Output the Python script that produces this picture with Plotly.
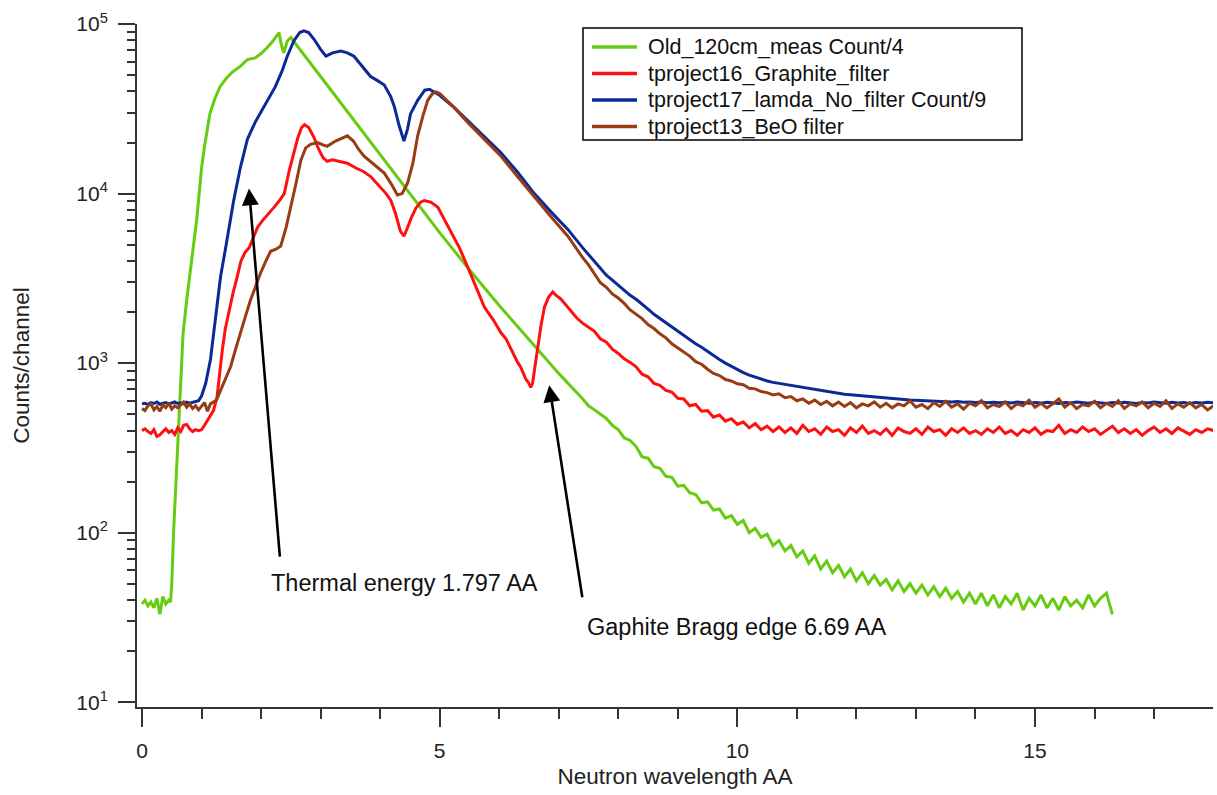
import plotly.graph_objects as go

# ---------------- data ----------------
TAIL_X = [7.5, 7.6, 7.7, 7.8, 7.9,
          8.0, 8.1, 8.2, 8.3, 8.4, 8.5, 8.6, 8.7, 8.8, 8.9,
          9.0, 9.1, 9.2, 9.3, 9.4, 9.5, 9.6, 9.7, 9.8, 9.9,
          10.0, 10.1, 10.2, 10.3, 10.4, 10.5, 10.6, 10.7, 10.8, 10.9,
          11.0, 11.1, 11.2, 11.3, 11.4, 11.5, 11.6, 11.7, 11.8, 11.9,
          12.0, 12.1, 12.2, 12.3, 12.4, 12.5, 12.6, 12.7, 12.8, 12.9,
          13.0, 13.1, 13.2, 13.3, 13.4, 13.5, 13.6, 13.7, 13.8, 13.9,
          14.0, 14.1, 14.2, 14.3, 14.4, 14.5, 14.6, 14.7, 14.8, 14.9,
          15.0, 15.1, 15.2, 15.3, 15.4, 15.5, 15.6, 15.7, 15.8, 15.9,
          16.0, 16.1, 16.2, 16.3, 16.4, 16.5, 16.6, 16.7, 16.8, 16.9,
          17.0, 17.1, 17.2, 17.3, 17.4, 17.5, 17.6, 17.7, 17.8, 17.9,
          18.0]

# Old_120cm_meas Count/4 (green)
green_head_x = [0, 0.05, 0.1, 0.15, 0.2, 0.25, 0.3, 0.35, 0.4, 0.45, 0.48, 0.5, 0.53, 0.58,
                0.64, 0.69, 0.75, 0.84, 0.92, 1.0, 1.05, 1.14, 1.22, 1.31, 1.42, 1.53, 1.65,
                1.77, 1.9, 2.0, 2.1, 2.2, 2.3, 2.34, 2.38, 2.44, 2.5, 3.0, 3.5, 4.0, 4.5,
                5.0, 5.5, 6.0, 6.5, 7.0, 7.4]
green_head_y = [38, 40, 37, 39, 36, 41, 33, 42, 38, 40, 39, 50, 100, 245,
                600, 1500, 2340, 4170, 7080, 14100, 19000, 29500, 36000, 42700, 48000, 52500, 56200,
                61700, 63100, 67000, 72400, 79400, 89100, 75900, 67600, 79400, 83200, 49000, 28800, 17000, 10000,
                5890, 3550, 2190, 1380, 870, 617]
green_tail_y = [560, 530, 498, 472, 430,
                405, 362, 350, 322, 280, 275, 245, 240, 215, 212,
                188, 190, 172, 168, 150, 152, 136, 138, 122, 126,
                112, 118, 100, 106, 94, 98, 84, 90, 78, 84,
                72, 78, 66, 73, 61, 68, 58, 64, 55, 61,
                52, 58, 50, 56, 49, 53, 46, 52, 45, 50,
                44, 49, 43, 48, 42, 47, 41, 45, 39, 44,
                38, 44, 37, 43, 36, 42, 38, 44, 35, 41,
                37, 43, 36, 41, 35, 42, 37, 40, 36, 43,
                37, 41, 44, 33]

# tproject16_Graphite_filter (red)
red_head_x = [0, 0.05, 0.1, 0.15, 0.2, 0.25, 0.3, 0.35, 0.4, 0.45, 0.5, 0.55, 0.6, 0.65, 0.7,
              0.75, 0.8, 0.85, 0.9, 0.95, 1.0, 1.05, 1.12, 1.2, 1.26, 1.3, 1.35, 1.4, 1.46,
              1.53, 1.6, 1.66, 1.73, 1.8, 1.87, 1.94, 2.02, 2.1, 2.16, 2.22, 2.3, 2.39, 2.47,
              2.55, 2.62, 2.68, 2.73, 2.8, 2.89, 2.96, 3.04, 3.11, 3.2, 3.3, 3.45, 3.6, 3.72,
              3.84, 4.0, 4.1, 4.18, 4.26, 4.34, 4.4, 4.46, 4.53, 4.6, 4.68, 4.74, 4.85, 4.97,
              5.08, 5.19, 5.33, 5.47, 5.6, 5.75, 5.9, 6.03, 6.12, 6.2, 6.26, 6.31, 6.36, 6.4,
              6.45, 6.49, 6.53, 6.56, 6.6, 6.64, 6.7, 6.76, 6.83, 6.9, 6.96, 7.03, 7.1, 7.15,
              7.22, 7.3, 7.4]
red_head_y = [400, 410, 395, 385, 405, 370, 378, 395, 410, 390, 400, 380, 415, 395, 430,
              435, 410, 395, 405, 400, 405, 430, 470, 525, 630, 850, 1200, 1600, 2040,
              2600, 3240, 3980, 4500, 4790, 5500, 6310, 6900, 7410, 7900, 8320, 9000, 10000, 13500,
              17400, 21500, 24500, 25500, 24500, 21400, 18500, 16300, 15500, 15800, 15500, 15100, 14100, 13500,
              12600, 11000, 10000, 9100, 7600, 6000, 5600, 6300, 7300, 8200, 8900, 9100, 8900, 8300,
              7000, 5900, 4800, 3700, 2900, 2140, 1800, 1510, 1380, 1200, 1080, 1010, 950, 880,
              800, 770, 720, 760, 950, 1200, 1650, 2140, 2450, 2630, 2500, 2400, 2250, 2150,
              2000, 1850, 1720]
red_tail_y = [1620, 1540, 1390, 1330, 1210,
              1140, 1060, 1010, 950, 860, 830, 760, 740, 690, 675,
              620, 615, 560, 570, 520, 525, 480, 495, 455, 470,
              435, 450, 415, 440, 405, 425, 395, 420, 390, 415,
              385, 430, 395, 410, 380, 420, 395, 405, 375, 415,
              390, 425, 385, 400, 380, 410, 375, 415, 395, 385,
              410, 380, 420, 395, 405, 375, 410, 390, 415, 385,
              400, 380, 410, 390, 420, 385, 400, 375, 405, 390,
              415, 380, 400, 395, 430, 385, 405, 390, 420, 395,
              410, 380, 400, 425, 390, 410, 385, 405, 375, 400,
              420, 390, 410, 385, 415, 395, 380, 405, 390, 410,
              400]

# tproject17_lamda_No_filter Count/9 (blue)
blue_head_x = [0, 0.05, 0.1, 0.15, 0.2, 0.25, 0.3, 0.35, 0.4, 0.45, 0.5, 0.55, 0.6, 0.65, 0.7,
               0.75, 0.8, 0.85, 0.9, 0.95, 1.0, 1.07, 1.15, 1.23, 1.32, 1.4, 1.47, 1.54, 1.65,
               1.77, 1.9, 2.05, 2.15, 2.24, 2.35, 2.44, 2.55, 2.65, 2.72, 2.8, 2.89, 3.0, 3.09,
               3.2, 3.34, 3.45, 3.56, 3.7, 3.84, 3.95, 4.07, 4.18, 4.24, 4.32, 4.4, 4.46, 4.51,
               4.63, 4.75, 4.83, 4.9, 5.0, 5.25, 5.47, 5.75, 6.03, 6.3, 6.59, 6.87, 7.15, 7.4]
blue_head_y = [575, 580, 570, 585, 578, 590, 572, 580, 586, 575, 582, 590, 578, 584, 575,
               588, 580, 585, 592, 600, 640, 760, 1050, 1860, 3240, 4680, 6700, 9100, 14100,
               20900, 26300, 32400, 37000, 42700, 52500, 64600, 79400, 89100, 91200, 89100, 81300, 70800, 64600,
               67600, 69200, 67600, 64600, 56200, 49000, 46500, 43700, 37200, 32400, 25100, 20400, 24000, 29500,
               35500, 40700, 41200, 39800, 38000, 32000, 26900, 21500, 17400, 13500, 10000, 7800, 6170, 4800]
blue_tail_y = [4360, 3950, 3580, 3300, 3090,
               2880, 2700, 2510, 2380, 2210, 2080, 1940, 1830, 1730, 1630,
               1540, 1460, 1380, 1300, 1240, 1170, 1110, 1050, 1000, 955,
               915, 880, 850, 825, 805, 785, 770, 760, 745, 735,
               725, 715, 705, 700, 690, 680, 670, 662, 655, 650,
               645, 638, 636, 630, 625, 622, 618, 614, 610, 606,
               603, 600, 598, 595, 597, 592, 590, 593, 588, 590,
               586, 590, 584, 588, 583, 587, 582, 589, 584, 580,
               586, 581, 588, 583, 579, 586, 582, 590, 584, 580,
               587, 582, 578, 586, 581, 588, 583, 579, 586, 582,
               589, 583, 580, 587, 581, 585, 579, 586, 582, 588,
               583]

# tproject13_BeO filter (brown)
brown_head_x = [0, 0.05, 0.1, 0.15, 0.2, 0.25, 0.3, 0.35, 0.4, 0.45, 0.5, 0.55, 0.6, 0.65, 0.7,
                0.75, 0.8, 0.85, 0.9, 0.95, 1.0, 1.05, 1.1, 1.15, 1.2, 1.25, 1.32, 1.4, 1.49,
                1.57, 1.65, 1.74, 1.82, 1.9, 1.99, 2.08, 2.16, 2.25, 2.33, 2.42, 2.5, 2.58, 2.67,
                2.75, 2.83, 2.95, 3.05, 3.11, 3.25, 3.38, 3.45, 3.55, 3.64, 3.73, 3.9, 4.07, 4.2,
                4.29, 4.37, 4.46, 4.55, 4.63, 4.72, 4.8, 4.88, 4.94, 5.0, 5.25, 5.47, 5.75, 6.03,
                6.3, 6.59, 6.87, 7.15, 7.3, 7.4]
brown_head_y = [540, 525, 560, 575, 530, 555, 520, 565, 545, 580, 535, 560, 545, 570, 590,
                550, 575, 540, 560, 530, 555, 585, 520, 575, 590, 605, 690, 810, 955,
                1200, 1510, 1900, 2340, 2800, 3390, 4000, 4570, 4700, 4900, 6300, 8300, 11200, 15800,
                18600, 19500, 20000, 19300, 19000, 20400, 21500, 21900, 20400, 18200, 16600, 14800, 13200, 11200,
                9800, 10000, 11500, 15100, 21900, 28800, 35500, 38900, 39800, 38900, 32000, 26300, 21000, 16600,
                12700, 9550, 7300, 5620, 4700, 4200]
brown_tail_y = [3800, 3350, 2980, 2800, 2560,
                2420, 2250, 2060, 1950, 1830, 1690, 1600, 1490, 1410, 1300,
                1230, 1150, 1100, 1020, 985, 920, 870, 845, 800, 785,
                755, 745, 710, 705, 680, 670, 650, 660, 625, 635,
                600, 615, 580, 605, 570, 595, 560, 590, 555, 585,
                545, 575, 560, 590, 550, 580, 545, 575, 560, 600,
                550, 570, 540, 585, 555, 595, 550, 575, 535, 580,
                560, 600, 545, 570, 555, 590, 540, 575, 560, 605,
                550, 580, 545, 575, 615, 550, 585, 540, 570, 560,
                595, 545, 580, 555, 600, 540, 575, 560, 590, 545,
                580, 555, 600, 540, 575, 550, 585, 545, 570, 530,
                560]

SERIES_NAMES = ["Old_120cm_meas Count/4", "tproject16_Graphite_filter",
                "tproject17_lamda_No_filter Count/9", "tproject13_BeO filter"]
COLORS = ["#66CC11", "#FF1010", "#0B2A96", "#983C14"]

Y_TICK_VALS = [10, 100, 1000, 10000, 100000]
Y_TICK_TEXT = ["10<sup>1</sup>", "10<sup>2</sup>", "10<sup>3</sup>", "10<sup>4</sup>", "10<sup>5</sup>"]
Y_MINOR_VALS = [m * 10 ** k for k in range(1, 5) for m in range(2, 10)]

ANNOT_TEXTS = ["Thermal energy 1.797 AA", "Gaphite Bragg edge 6.69 AA"]

# ---------------- figure ----------------
FONT = "Liberation Sans, Arial, sans-serif"
W, H = 1217, 795
ML, MR, MT, MB = 137, 4, 24, 88
PW, PH = W - ML - MR, H - MT - MB


def px_x(px):  # page pixel -> paper x
    return (px - ML) / PW


def px_y(py):  # page pixel -> paper y
    return (H - MB - py) / PH


series = [
    (green_head_x + TAIL_X[:len(green_tail_y)], green_head_y + green_tail_y),
    (red_head_x + TAIL_X[:len(red_tail_y)], red_head_y + red_tail_y),
    (blue_head_x + TAIL_X[:len(blue_tail_y)], blue_head_y + blue_tail_y),
    (brown_head_x + TAIL_X[:len(brown_tail_y)], brown_head_y + brown_tail_y),
]

fig = go.Figure()
for (xs, ys), name, color in zip(series, SERIES_NAMES, COLORS):
    fig.add_trace(go.Scatter(x=xs, y=ys, mode="lines", name=name, showlegend=False,
                             line=dict(color=color, width=3)))

axis_common = dict(showline=True, linecolor="#333333", linewidth=2, showgrid=False,
                   zeroline=False, ticks="outside", tickcolor="#333333", tickwidth=2,
                   tickfont=dict(family=FONT, size=21, color="#222222"),
                   automargin=False)

fig.update_xaxes(range=[-0.084, 17.99], tickmode="array", tickvals=[0, 5, 10, 15],
                 ticklen=18, ticklabelstandoff=6,
                 minor=dict(tickmode="array", tickvals=list(range(1, 19)), ticks="outside",
                            ticklen=10, tickwidth=2, tickcolor="#333333"),
                 title=dict(text="Neutron wavelength AA", standoff=7,
                            font=dict(family=FONT, size=22.5, color="#222222")),
                 **axis_common)
fig.update_yaxes(type="log", range=[0.972, 5.0], tickmode="array",
                 tickvals=Y_TICK_VALS, ticktext=Y_TICK_TEXT, ticklen=17, ticklabelstandoff=6,
                 minor=dict(tickmode="array", tickvals=Y_MINOR_VALS, ticks="outside",
                            ticklen=8, tickwidth=2, tickcolor="#333333"),
                 title=dict(text="Counts/channel", standoff=40,
                            font=dict(family=FONT, size=22.5, color="#222222")),
                 **axis_common)

# arrows (annotation coordinates on a log axis are given as log10 values)
fig.add_annotation(x=1.797, y=4.03, ax=2.318, ay=1.85, xref="x", yref="y", axref="x", ayref="y",
                   text="", showarrow=True, arrowhead=2, arrowsize=1.3, arrowwidth=2.6,
                   arrowcolor="black")
fig.add_annotation(x=6.84, y=2.87, ax=7.40, ay=1.61, xref="x", yref="y", axref="x", ayref="y",
                   text="", showarrow=True, arrowhead=2, arrowsize=1.3, arrowwidth=2.6,
                   arrowcolor="black")
fig.add_annotation(x=2.14, y=1.704, xref="x", yref="y", text=ANNOT_TEXTS[0],
                   showarrow=False, xanchor="left", yanchor="middle",
                   font=dict(family=FONT, size=23.5, color="#111111"))
fig.add_annotation(x=7.44, y=1.444, xref="x", yref="y", text=ANNOT_TEXTS[1],
                   showarrow=False, xanchor="left", yanchor="middle",
                   font=dict(family=FONT, size=23.5, color="#111111"))

# legend box drawn in paper coordinates
fig.add_shape(type="rect", xref="paper", yref="paper",
              x0=px_x(583), x1=px_x(1022), y0=px_y(140), y1=px_y(28),
              line=dict(color="black", width=1.5), fillcolor="white", layer="above")
ROW_PX = [47, 73.5, 100, 126.5]
for name, color, ry in zip(SERIES_NAMES, COLORS, ROW_PX):
    fig.add_shape(type="line", xref="paper", yref="paper",
                  x0=px_x(592), x1=px_x(637), y0=px_y(ry), y1=px_y(ry),
                  line=dict(color=color, width=3.5), layer="above")
    fig.add_annotation(x=px_x(646), y=px_y(ry), xref="paper", yref="paper", text=name,
                       showarrow=False, xanchor="left", yanchor="middle",
                       font=dict(family=FONT, size=21.5, color="#111111"))

fig.update_layout(
    width=W, height=H,
    margin=dict(l=ML, r=MR, t=MT, b=MB),
    plot_bgcolor="white", paper_bgcolor="white",
    font=dict(family=FONT, size=21, color="#222222"),
    showlegend=False,
)

fig.write_html("out.html", config={"displayModeBar": False},
               post_script="document.body.style.margin='0';")
